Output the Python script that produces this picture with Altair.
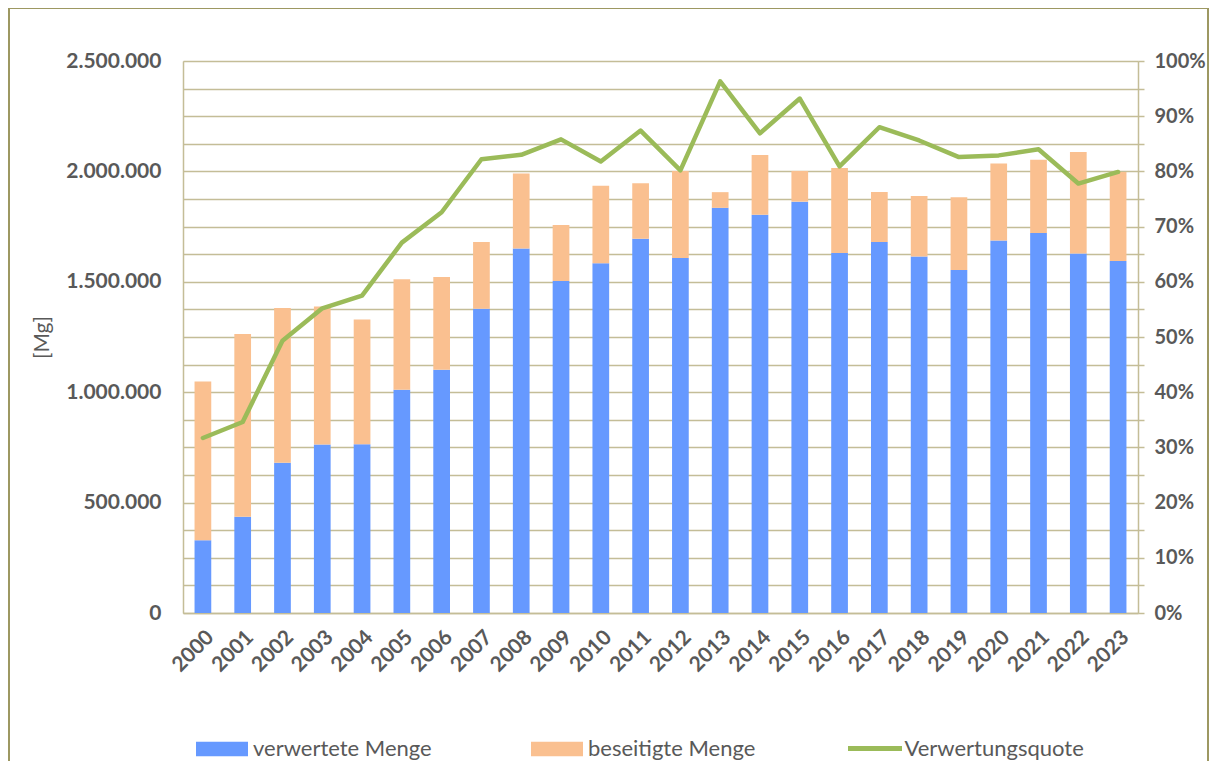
import altair as alt
import pandas as pd

years = ["2000", "2001", "2002", "2003", "2004", "2005", "2006", "2007", "2008", "2009",
         "2010", "2011", "2012", "2013", "2014", "2015", "2016", "2017", "2018", "2019",
         "2020", "2021", "2022", "2023"]
verwertet = [330000, 436000, 681000, 763000, 764000, 1011000, 1102000, 1378000, 1651000, 1504000,
             1584000, 1695000, 1608000, 1835000, 1804000, 1863000, 1631000, 1680000, 1615000, 1553000,
             1687000, 1721000, 1628000, 1594000]
beseitigt = [718000, 828000, 700000, 625000, 565000, 501000, 420000, 302000, 339000, 253000,
             351000, 251000, 394000, 71000, 270000, 139000, 384000, 227000, 274000, 330000,
             349000, 332000, 460000, 403000]
quote = [0.317, 0.346, 0.493, 0.552, 0.575, 0.671, 0.726, 0.822, 0.830, 0.858,
         0.818, 0.874, 0.802, 0.963, 0.869, 0.932, 0.809, 0.880, 0.856, 0.826,
         0.829, 0.840, 0.778, 0.799]

bar_series = ["verwertete Menge", "beseitigte Menge"]
bar_colors = ["#6699ff", "#fac090"]
line_series = ["Verwertungsquote"]
line_colors = ["#9bbb59"]

rows = []
for i, y in enumerate(years):
    rows.append({"Jahr": y, "Art": bar_series[0], "Menge": verwertet[i], "ord": 0})
    rows.append({"Jahr": y, "Art": bar_series[1], "Menge": beseitigt[i], "ord": 1})
bars_df = pd.DataFrame(rows)
line_df = pd.DataFrame({"Jahr": years, "Quote": quote, "Reihe": line_series[0]})

FONT = "Lato"
GRAY = "#595959"
GRID = "#c4bd97"
TICKFS = 21
LEGFS = 22

W, H = 955, 552

x_enc = alt.X("Jahr:N", sort=years,
              scale=alt.Scale(paddingInner=0.58, paddingOuter=0.29),
              axis=alt.Axis(title=None, labelAngle=-45, labelFont=FONT, labelFontSize=TICKFS,
                            labelFontWeight="bold", labelColor=GRAY, ticks=False,
                            labelPadding=13, domainColor=GRID, domainWidth=1.5, grid=False))

left_vals = [i * 125000 for i in range(21)]
right_vals = [i * 0.05 for i in range(21)]

bar_legend = alt.Legend(
    orient="none", legendX=13, legendY=675, direction="horizontal", title=None, padding=0,
    symbolType="M-1,-0.55H3V0.55H-1Z", symbolSize=676, symbolStrokeWidth=0,
    symbolOpacity=1, labelOffset=31, labelLimit=400,
    labelFont=FONT, labelFontSize=LEGFS, labelColor=GRAY,
    columnPadding=99,
)
line_legend = alt.Legend(
    orient="none", legendX=662.5, legendY=658, direction="horizontal", title=None, padding=0,
    symbolType="stroke", symbolSize=2916, symbolStrokeWidth=5,
    symbolOpacity=1, labelOffset=0, labelLimit=400,
    labelFont=FONT, labelFontSize=LEGFS, labelColor=GRAY,
)

bars = alt.Chart(bars_df).mark_bar().encode(
    x=x_enc,
    y=alt.Y("Menge:Q", stack="zero",
            scale=alt.Scale(domain=[0, 2500000], nice=False),
            axis=alt.Axis(values=left_vals, orient="left",
                          labelExpr="datum.value % 500000 === 0 ? replace(format(datum.value, ',d'), regexp(',', 'g'), '.') : ''",
                          labelFont=FONT, labelFontSize=TICKFS, labelFontWeight="bold", labelColor=GRAY,
                          ticks=False, labelPadding=22, domainColor=GRID, domainWidth=1.5,
                          grid=True, gridColor=GRID, gridWidth=1.5,
                          title="[Mg]", titleFont=FONT, titleFontSize=21, titleFontWeight="normal",
                          titleColor=GRAY, titleX=-141, titleY=276, titleAngle=270,
                          titleAlign="center", titleBaseline="middle")),
    fill=alt.Fill("Art:N", scale=alt.Scale(domain=bar_series, range=bar_colors), legend=bar_legend),
    order=alt.Order("ord:Q", sort="ascending"),
)

line = alt.Chart(line_df).mark_line(strokeWidth=4.5, strokeJoin="round", strokeCap="round").encode(
    x=alt.X("Jahr:N", sort=years),
    y=alt.Y("Quote:Q", scale=alt.Scale(domain=[0, 1], nice=False),
            axis=alt.Axis(values=right_vals, orient="right",
                          labelExpr="round(datum.value * 100) % 10 === 0 ? format(datum.value, '.0%') : ''",
                          labelFont=FONT, labelFontSize=20, labelFontWeight="bold", labelColor=GRAY,
                          ticks=True, tickSize=6, tickColor=GRID, tickWidth=1.5,
                          labelPadding=10, domainColor=GRID, domainWidth=1.5,
                          grid=False, title=None)),
    stroke=alt.Stroke("Reihe:N", scale=alt.Scale(domain=line_series, range=line_colors), legend=line_legend),
)

border = alt.Chart(pd.DataFrame({"a": [0]})).mark_rect(
    fill=None, stroke="#9d9862", strokeWidth=2
).encode(
    x=alt.value(-174), x2=alt.value(1025), y=alt.value(-53), y2=alt.value(760)
)

chart = alt.layer(border, bars, line).resolve_scale(y="independent").properties(
    width=W, height=H,
    autosize=alt.AutoSizeParams(type="none"),
    padding={"left": 175, "top": 53, "right": 71, "bottom": 148},
).configure_view(stroke=None).configure(background="white")

chart.save("out.html", embed_options={"renderer": "svg", "actions": False})
